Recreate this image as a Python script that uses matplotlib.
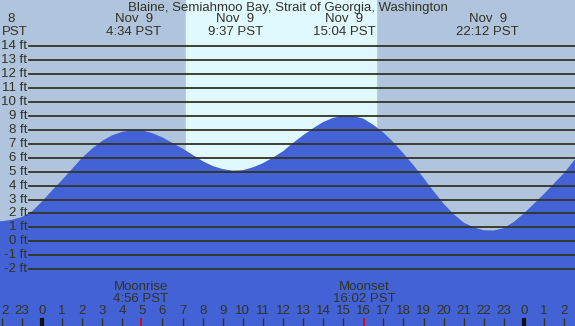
import matplotlib
matplotlib.use('Agg')
import matplotlib.pyplot as plt
import numpy as np

# tide height (ft) read every half hour, from 21:30 Nov 8 to 03:00 Nov 10
hours = np.arange(-2.5, 27.01, 0.5)
heights = [1.47, 1.45, 1.55, 1.75, 2.15, 2.85, 3.65, 4.4, 5.2, 6.0,
           6.65, 7.2, 7.6, 7.85, 7.97, 7.95, 7.75, 7.45, 7.05, 6.65,
           6.2, 5.75, 5.4, 5.18, 5.07, 5.1, 5.3, 5.6, 6.0, 6.45,
           7.05, 7.6, 8.1, 8.55, 8.85, 9.0, 8.98, 8.8, 8.35, 7.8,
           7.1, 6.3, 5.45, 4.55, 3.6, 2.7, 1.95, 1.35, 1.0, 0.8,
           0.78, 0.95, 1.4, 2.0, 2.7, 3.4, 4.15, 4.9, 5.8, 6.5]

# high / low tide events
event_times = [4.567, 9.617, 15.067, 22.2]
event_days = ['Nov  9', 'Nov  9', 'Nov  9', 'Nov  9']
event_labels = ['4:34 PST', '9:37 PST', '15:04 PST', '22:12 PST']
event_heights = [8.0, 5.05, 9.0, 0.75]
# the label of the earlier low is cut by the left edge: only this shows
edge_day, edge_time = '8', 'PST'

sunrise, sunset = 7.17, 16.63
moon_times = [4.933, 16.033]
moon_names = ['Moonrise', 'Moonset']
moon_labels = ['4:56 PST', '16:02 PST']

ft_levels = list(range(14, -3, -1))
hour_ticks = list(range(-1, 27))

W, H = 575, 326
x0_px, px_per_hour = 42.0, 20.08
y0_px, px_per_ft = 241.4, 13.96

night = '#b0c4de'
day = '#e0f8ff'
water = '#4262d6'
ink = '#333322'

plt.rcParams['font.family'] = ['Liberation Sans', 'DejaVu Sans']
fs = 9.5

fig = plt.figure(figsize=(W / 100, H / 100), dpi=100)
ax = fig.add_axes([0, 0, 1, 1])
ax.set_xlim(-x0_px / px_per_hour, (W - x0_px) / px_per_hour)
ax.set_ylim((y0_px - H) / px_per_ft, y0_px / px_per_ft)
ax.axis('off')
ax.add_patch(plt.Rectangle((0, 0), 1, 1, transform=ax.transAxes,
                           color=night, zorder=0))
ax.axvspan(sunrise, sunset, color=day, zorder=1)

ax.fill_between(hours, heights, -20, color=water, lw=0, zorder=2)

# small marks at the high tides
for t, h in zip(event_times, event_heights):
    if h > 6:
        ax.plot([t - 0.3, t + 0.3], [h, h], color='#8f9db0', lw=1,
                zorder=1.5)

# grid lines and ft labels
for lv in ft_levels:
    ax.axhline(lv, xmin=29 / W, xmax=1, color=ink, lw=1.3, zorder=3)
    ax.text(27.5 / px_per_hour - x0_px / px_per_hour, lv, '%d ft' % lv,
            ha='right', va='center', fontsize=fs, color=ink, zorder=4)

tr = ax.get_xaxis_transform()


def fy(ypx):
    return 1 - ypx / H


ax.text(0.5, fy(7.5), 'Blaine, Semiahmoo Bay, Strait of Georgia, Washington',
        transform=ax.transAxes, ha='center', va='center', fontsize=fs,
        color=ink)
for t, d, lab in zip(event_times, event_days, event_labels):
    ax.text(t, fy(19.5), d, transform=tr, ha='center', va='center',
            fontsize=fs, color=ink)
    ax.text(t, fy(32), lab, transform=tr, ha='center', va='center',
            fontsize=fs, color=ink)
ax.text(11.5 / W, fy(19.5), edge_day, transform=ax.transAxes, ha='center',
        va='center', fontsize=fs, color=ink)
ax.text(2 / W, fy(32), edge_time, transform=ax.transAxes, ha='left',
        va='center', fontsize=fs, color=ink)

for t, n, lab in zip(moon_times, moon_names, moon_labels):
    ax.text(t, fy(287.5), n, transform=tr, ha='center', va='center',
            fontsize=fs, color=ink, zorder=4)
    ax.text(t, fy(299), lab, transform=tr, ha='center', va='center',
            fontsize=fs, color=ink, zorder=4)

# hour labels and ticks
ax.text(1 / W, fy(311.5), '2', transform=ax.transAxes, ha='left',
        va='center', fontsize=fs, color=ink, zorder=4)
for h in [-2] + hour_ticks:
    if h in hour_ticks:
        ax.text(h, fy(311.5), str(h % 24), transform=tr, ha='center',
                va='center', fontsize=fs, color=ink, zorder=4)
    if any(abs(h - m) < 0.5 for m in moon_times):
        continue
    lw = 3 if h % 24 == 0 else 1
    col = '#111111' if h % 24 == 0 else ink
    ax.plot([h, h], [fy(318), fy(326)], transform=tr, color=col, lw=lw,
            solid_capstyle='butt', zorder=4)
for m in moon_times:
    ax.plot([m, m], [fy(318), fy(326)], transform=tr, color='#e00000',
            lw=1.2, solid_capstyle='butt', zorder=4)

fig.savefig('out.png', dpi=100)
